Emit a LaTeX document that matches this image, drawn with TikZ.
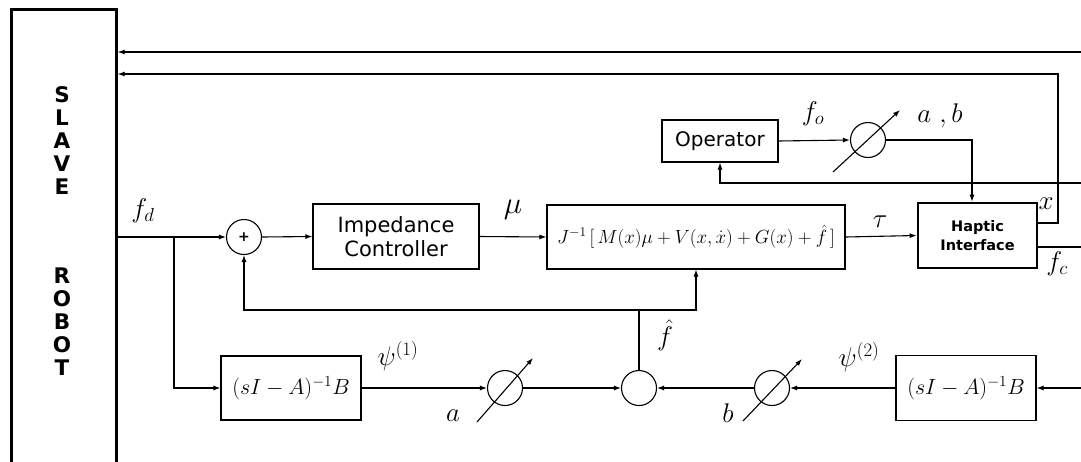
\RequirePackage{fix-cm}
\documentclass[tikz,border=0pt]{standalone}
\usepackage{fontspec}
\usetikzlibrary{arrows.meta}
\newfontfamily\dejavu{DejaVu Sans}
\begin{document}
\begin{tikzpicture}[x=1pt,y=-1pt,
  ln/.style={line width=1.1pt},
  arr/.style={ln,-{Latex[length=7pt,width=5pt]}},
  blk/.style={draw,ln,inner sep=0pt,align=center},
  sumc/.style={circle,draw,ln,minimum size=35pt,inner sep=0pt},
  lab/.style={inner sep=0pt,font=\fontsize{27}{30}\selectfont},
  boxtxt/.style={font=\dejavu\fontsize{21}{26}\selectfont},
  letter/.style={inner sep=0pt,font=\dejavu\bfseries\fontsize{21.5}{22}\selectfont}]
\useasboundingbox (0,0) rectangle (1081,461);

% slave robot column
\node[draw,line width=2.6pt,minimum width=105pt,minimum height=480pt,anchor=north west,inner sep=0pt] (rob) at (10,8) {};
\foreach \ch/\yy in {S/95,L/118,A/141,V/164,E/187,R/276,O/299,B/322,O/345,T/368}
  \node[letter] at (62,\yy) {\ch};

% blocks
\node[blk,boxtxt,minimum width=166pt,minimum height=65pt] (imp) at (396,236.5) {Impedance\\[-2pt]Controller};
\node[blk,minimum width=298pt,minimum height=64pt,font=\fontsize{19}{22}\selectfont] (J) at (696,237)
  {$J^{-1}\,[\,M(x)\mu+V(x,\dot{x})+G(x)+\hat{f}\,]$};
\node[draw,line width=2.6pt,inner sep=0pt,align=center,minimum width=119pt,minimum height=65pt,
  font=\dejavu\bfseries\fontsize{14.5}{19}\selectfont] (hap) at (977.5,235.5) {Haptic\\Interface};
\node[blk,boxtxt,minimum width=116pt,minimum height=42pt,font=\dejavu\fontsize{20}{24}\selectfont] (op) at (720,141) {Operator};
\node[blk,minimum width=140pt,minimum height=64pt,font=\fontsize{22}{26}\selectfont] (b1) at (291,388) {$(sI-A)^{-1}B$};
\node[blk,minimum width=140pt,minimum height=65pt,font=\fontsize{22}{26}\selectfont] (b2) at (966,388) {$(sI-A)^{-1}B$};

% summing and gain circles
\node[sumc,font=\dejavu\bfseries\fontsize{14}{14}\selectfont] (s1) at (244,237) {+};
\node[sumc] (co) at (868,140) {};
\node[sumc] (ca) at (505,388) {};
\node[sumc] (cf) at (639,388) {};
\node[sumc] (cb) at (772,388) {};

% adjustable gain arrows
\draw[arr] (co) ++(-35,32) -- ++(67,-62);
\draw[arr] (ca) ++(-28,34) -- ++(56,-64);
\draw[arr] (cb) ++(-29,33) -- ++(59,-62);

% branch points and free ends
\coordinate (jn) at (174,237);
\coordinate (fj) at (639,310);
\coordinate (e1) at (1081,52);
\coordinate (c2) at (1058,74);
\coordinate (efb) at (1081,183);
\coordinate (efc) at (1081,247);
\coordinate (epsi) at (1081,388);

% top return lines to the slave robot
\draw[arr] (e1) -- (e1 -| rob.east);
\draw[arr] ([yshift=12.5pt]hap.east) -| (c2) -- (c2 -| rob.east);

% operator loop
\draw[arr] (op.east) -- (co.west);
\draw[arr] (co.east) -| ([xshift=-5.5pt]hap.north);
\draw[arr] (efb) -| (op.south);
\draw[ln] ([yshift=-11.5pt]hap.east) -- (efc);

% forward path
\draw[ln] (rob.east |- s1) -- (jn);
\draw[arr] (jn) -- (s1.west);
\draw[arr] (s1.east) -- (imp.west);
\draw[arr] (imp.east) -- (J.west);
\draw[arr] (J.east) -- (hap.west);

% observer path
\draw[arr] (jn) |- (b1.west);
\draw[arr] (b1.east) -- (ca.west);
\draw[arr] (ca.east) -- (cf.west);
\draw[arr] (epsi) -- (b2.east);
\draw[arr] (b2.west) -- (cb.east);
\draw[arr] (cb.west) -- (cf.east);
\draw[ln] (cf.north) -- (fj);
\draw[arr] (fj) -| (J.south);
\draw[arr] (fj) -| (s1.south);

% signal labels
\node[lab] at (143,211) {$f_d$};
\node[lab,font=\fontsize{31}{34}\selectfont] at (513,210) {$\mu$};
\node[lab] at (880,222) {$\tau$};
\node[lab] at (813,114) {$f_o$};
\node[lab] at (940,116) {$a\ ,b$};
\node[lab] at (1046,204) {$x$};
\node[lab] at (1057,264) {$f_c$};
\node[lab] at (398,356) {$\psi^{(1)}$};
\node[lab] at (453,416) {$a$};
\node[lab] at (665,335) {$\hat{f}$};
\node[lab] at (728,413) {$b$};
\node[lab] at (859,357) {$\psi^{(2)}$};
\end{tikzpicture}
\end{document}
